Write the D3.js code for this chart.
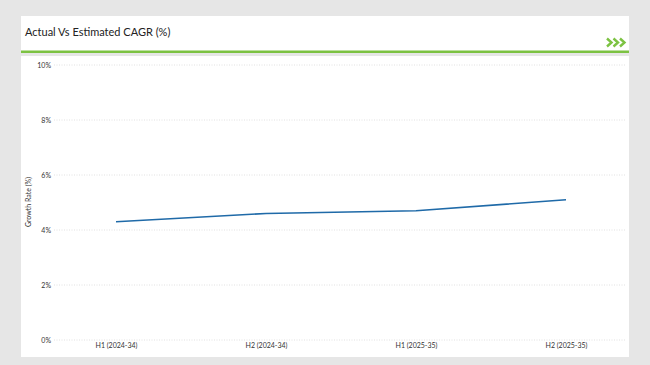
<!DOCTYPE html>
<html><head><meta charset="utf-8">
<script src="https://cdn.jsdelivr.net/npm/d3@7"></script>
<style>
html,body{margin:0;padding:0;background:#e6e6e6;}
svg{display:block;font-family:Lato,"Open Sans",sans-serif;}
</style></head>
<body><svg id="c" width="650" height="365"></svg>
<script>
const categories = ["H1 (2024-34)", "H2 (2024-34)", "H1 (2025-35)", "H2 (2025-35)"];
const growthValues = [4.3, 4.6, 4.7, 5.1];
const yTicks = [0, 2, 4, 6, 8, 10];
const chartTitle = "Actual Vs Estimated CAGR (%)";
const yAxisTitle = "Growth Rate (%)";

const svg = d3.select("#c");
svg.append("rect").attr("x",0).attr("y",0).attr("width",650).attr("height",365).attr("fill","#e6e6e6");
// header card
svg.append("rect").attr("x",21).attr("y",16).attr("width",608).attr("height",37).attr("fill","#fff");
svg.append("rect").attr("x",21).attr("y",50.5).attr("width",608).attr("height",2.5).attr("fill","#7cc242");
svg.append("text").attr("x",25).attr("y",36).attr("font-size",11).attr("fill","#222").text(chartTitle);
// chevrons
const chev = svg.append("g").attr("fill","none").attr("stroke","#7cc242").attr("stroke-width",2.4);
[607,613.5,620].forEach(x=>{
  chev.append("path").attr("d",`M${x},38.5 L${x+4.5},42.5 L${x},46.5`);
});
// plot card
svg.append("rect").attr("x",21).attr("y",56).attr("width",608).attr("height",301).attr("fill","#fff");

const x = d3.scalePoint().domain(categories).range([116,566]);
const y = d3.scaleLinear().domain([0,10]).range([340,65]);

// grid
svg.append("g").selectAll("line").data(yTicks).join("line")
  .attr("x1",54).attr("x2",626).attr("y1",d=>y(d)).attr("y2",d=>y(d))
  .attr("stroke","#d9d9d9").attr("stroke-width",0.8).attr("stroke-dasharray","1,1.5");

// y axis
const yAxis = d3.axisLeft(y).tickValues(yTicks).tickFormat(d=>d+"%").tickSize(0).tickPadding(0);
const gy = svg.append("g").attr("transform","translate(51,0)").call(yAxis);
gy.select(".domain").remove();
gy.selectAll("text").attr("font-size",7).attr("fill","#333").attr("font-family","Lato,'Open Sans',sans-serif");

// x axis
const xAxis = d3.axisBottom(x).tickSize(0).tickPadding(0);
const gx = svg.append("g").attr("transform","translate(0,343)").call(xAxis);
gx.select(".domain").remove();
gx.selectAll("text").attr("font-size",7).attr("fill","#333").attr("font-family","Lato,'Open Sans',sans-serif");

// y title
svg.append("text").attr("transform","translate(31,202) rotate(-90)").attr("text-anchor","middle")
  .attr("font-size",7).attr("fill","#333").text(yAxisTitle);

// line
const line = d3.line().x((d,i)=>x(categories[i])).y(d=>y(d)).curve(d3.curveLinear);
svg.append("path").datum(growthValues).attr("d",line).attr("fill","none")
  .attr("stroke","#1f6aa8").attr("stroke-width",1.6);
</script></body></html>
